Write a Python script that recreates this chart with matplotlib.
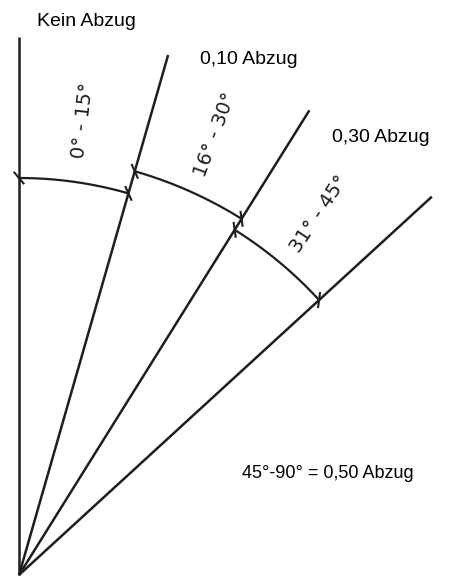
import numpy as np
import matplotlib.pyplot as plt

# Winkel der Strahlen (Grad, gemessen von der Senkrechten) und Längen [px]
strahl_winkel = [0, 16, 32, 47.5]
strahl_laenge = [538, 541, 548, 560]

# Bögen: Startwinkel, Endwinkel, Radius
bogen_start = [0, 16, 32]
bogen_ende = [16, 32, 47.5]
bogen_radius = [397, 420, 407]
bogen_text = ['0° - 15°', '16° - 30°', '31° - 45°']

# Beschriftung der Bereiche
abzug_text = ['Kein Abzug', '0,10 Abzug', '0,30 Abzug', '45°-90° = 0,50 Abzug']

farbe = '#1e1e1e'


def polar(r, w):
    w = np.radians(w)
    return r * np.sin(w), r * np.cos(w)


fig = plt.figure(figsize=(4.76, 5.8), dpi=100)
ax = fig.add_axes([0, 0, 1, 1])
ax.set_xlim(-19, 457)
ax.set_ylim(-5, 575)
ax.axis('off')

# Strahlen vom Ursprung
for w, l in zip(strahl_winkel, strahl_laenge):
    x, y = polar(l, w)
    ax.plot([0, x], [0, y], color=farbe, lw=1.8, solid_capstyle='butt')

# Bögen mit Strichmarken an den Enden
for w0, w1, r, t in zip(bogen_start, bogen_ende, bogen_radius, bogen_text):
    ww = np.linspace(w0, w1, 60)
    x, y = polar(r, ww)
    ax.plot(x, y, color=farbe, lw=1.6)
    for w in (w0, w1):
        px, py = polar(r, w)
        # kurzer Schrägstrich quer zum Strahl
        d = np.radians(w + 50)
        ax.plot([px - 7 * np.cos(d), px + 7 * np.cos(d)],
                [py + 7 * np.sin(d), py - 7 * np.sin(d)], color=farbe, lw=1.5)
    wm = (w0 + w1) / 2
    tx, ty = polar(r + 62, wm)
    ax.text(tx, ty, t, rotation=90 - wm * 0.85, ha='center', va='center',
            fontsize=14, color=farbe, rotation_mode='anchor')

# Bereichstexte
ax.text(18, 553, abzug_text[0], fontsize=14, family='Liberation Sans',
        ha='left', va='center')
ax.text(181, 515, abzug_text[1], fontsize=14, family='Liberation Sans',
        ha='left', va='center')
ax.text(313, 438, abzug_text[2], fontsize=14, family='Liberation Sans',
        ha='left', va='center')
ax.text(223, 101, abzug_text[3], fontsize=13, family='Liberation Sans',
        ha='left', va='center')

fig.savefig('out.png', dpi=100, facecolor='white')
